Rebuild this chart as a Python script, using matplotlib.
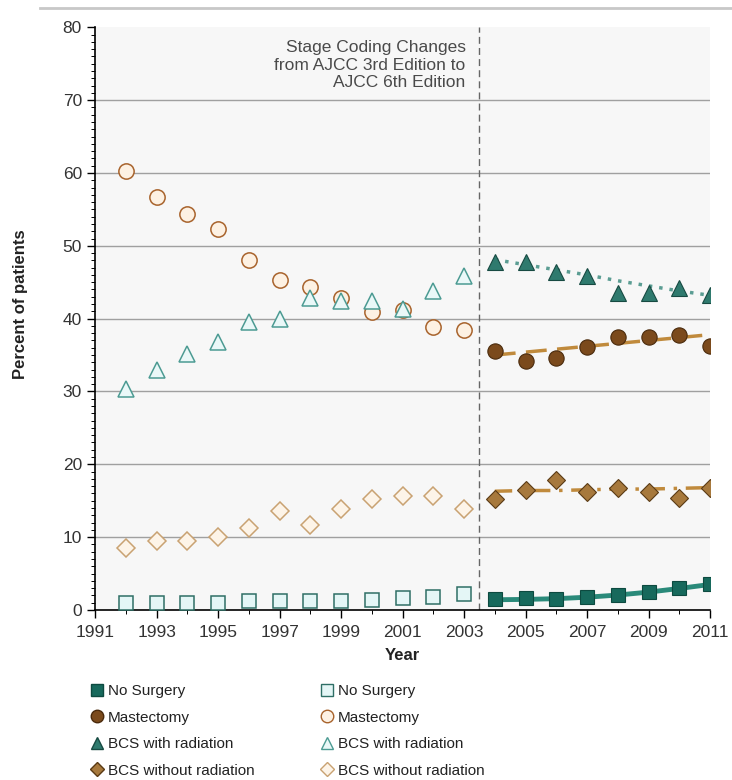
import numpy as np
import matplotlib
matplotlib.use("Agg")
from matplotlib import pyplot as plt
from matplotlib.ticker import MultipleLocator, FixedLocator
from matplotlib.lines import Line2D

plt.rcParams['font.family'] = ['Liberation Sans', 'DejaVu Sans']

# 1992-2003 (AJCC 3rd edition), open markers
years_old = np.arange(1992, 2004)
mast_old = [60.3, 56.7, 54.4, 52.3, 48.1, 45.3, 44.3, 42.8, 40.9, 41.2, 38.8, 38.4]
bcsr_old = [30.4, 32.9, 35.1, 36.8, 39.6, 40.0, 42.9, 42.4, 42.4, 41.3, 43.8, 45.9]
bcsn_old = [8.5, 9.5, 9.5, 10.0, 11.2, 13.6, 11.6, 13.8, 15.2, 15.6, 15.6, 13.8]
nosurg_old = [1.0, 1.0, 1.0, 1.0, 1.2, 1.2, 1.2, 1.2, 1.4, 1.6, 1.8, 2.2]

# 2004-2011 (AJCC 6th edition), filled markers + trend lines
years_new = np.arange(2004, 2012)
bcsr_new = [47.8, 47.8, 46.4, 45.9, 43.5, 43.5, 44.2, 43.3]
mast_new = [35.6, 34.2, 34.6, 36.1, 37.5, 37.5, 37.7, 36.3]
bcsn_new = [15.2, 16.5, 17.8, 16.2, 16.7, 16.2, 15.4, 16.8]
nosurg_new = [1.5, 1.6, 1.5, 1.8, 2.1, 2.5, 3.0, 3.6]

bcsr_fit = [48.1, 47.4, 46.7, 46.0, 45.2, 44.5, 43.8, 43.2]
mast_fit = [35.0, 35.4, 35.8, 36.2, 36.6, 37.0, 37.4, 37.8]
bcsn_fit = [16.3, 16.4, 16.4, 16.5, 16.6, 16.6, 16.7, 16.8]
nosurg_fit = [1.4, 1.45, 1.55, 1.75, 2.05, 2.45, 2.95, 3.5]

labels = ['No Surgery', 'Mastectomy', 'BCS with radiation', 'BCS without radiation']
xticks = list(range(1991, 2012, 2))

teal_dark = '#17695c'
brown_dark = '#7b4a1c'
brown_mid = '#a7793d'
orange_line = '#c08a3c'

fig = plt.figure(figsize=(7.32, 7.8), dpi=100)
ax = fig.add_axes([0.130, 0.218, 0.840, 0.747])
ax.set_facecolor('#f7f7f7')

for y in range(10, 80, 10):
    ax.axhline(y, color='#a0a0a0', lw=1, zorder=1)

ax.axvline(2003.5, color='#666666', lw=1, ls=(0, (5, 3)), zorder=2)
ax.text(2003.05, 78.2, 'Stage Coding Changes\nfrom AJCC 3rd Edition to\nAJCC 6th Edition',
        ha='right', va='top', fontsize=12.5, color='#4a4a4a', linespacing=1.2)

ms = 10
# open markers
ax.plot(years_old, nosurg_old, ls='none', marker='s', ms=ms, mfc='#e4f6f6', mec='#2f6f66', mew=1.1, zorder=4)
ax.plot(years_old, mast_old, ls='none', marker='o', ms=ms + 1, mfc='#fdf1e3', mec='#a8632c', mew=1.1, zorder=4)
ax.plot(years_old, bcsr_old, ls='none', marker='^', ms=ms + 1, mfc='#eaf8f8', mec='#4c9b93', mew=1.1, zorder=4)
ax.plot(years_old, bcsn_old, ls='none', marker='D', ms=ms - 1, mfc='#fdf4e8', mec='#c9a272', mew=1.1, zorder=4)

# trend lines
ax.plot(years_new, bcsr_fit, color='#5b9d93', lw=2.5, ls=(0, (1, 2)), zorder=3)
ax.plot(years_new, mast_fit, color=orange_line, lw=2.5, ls=(0, (6, 3)), zorder=3)
ax.plot(years_new, bcsn_fit, color=orange_line, lw=2.5, ls=(0, (5, 2.5, 1, 2.5)), zorder=3)
ax.plot(years_new, nosurg_fit, color='#2a8a7a', lw=3.5, zorder=3)

# filled markers
ax.plot(years_new, nosurg_new, ls='none', marker='s', ms=ms, mfc=teal_dark, mec='#0d4a40', mew=0.8, zorder=5)
ax.plot(years_new, mast_new, ls='none', marker='o', ms=ms + 1, mfc=brown_dark, mec='#4a2a0c', mew=0.8, zorder=5)
ax.plot(years_new, bcsr_new, ls='none', marker='^', ms=ms + 1, mfc='#2f7a6e', mec='#174a42', mew=0.8, zorder=5)
ax.plot(years_new, bcsn_new, ls='none', marker='D', ms=ms - 1, mfc=brown_mid, mec='#5a3a14', mew=0.8, zorder=5)

ax.set_xlim(1991, 2011)
ax.set_ylim(0, 80)
ax.xaxis.set_major_locator(FixedLocator(xticks))
ax.xaxis.set_minor_locator(MultipleLocator(1))
ax.yaxis.set_major_locator(MultipleLocator(10))
ax.yaxis.set_minor_locator(MultipleLocator(1))
ax.tick_params(axis='both', which='major', labelsize=12.5, labelcolor='#333333', length=6, width=1)
ax.tick_params(axis='x', which='major', pad=5)
ax.tick_params(axis='y', which='minor', length=3, width=0.7)
ax.tick_params(axis='x', which='minor', length=3, width=0.7)
for s in ['top', 'right']:
    ax.spines[s].set_visible(False)
ax.spines['left'].set_linewidth(1.2)
ax.spines['bottom'].set_linewidth(1.2)

ax.set_xlabel('Year', fontsize=12, fontweight='bold', color='#222222')
ax.set_ylabel('Percent of patients', fontsize=12, fontweight='bold', color='#222222')
ax.xaxis.set_label_coords(0.5, -0.079)
ax.yaxis.set_label_coords(-0.122, 0.525)
ax.xaxis.label.set_va('center')
ax.yaxis.label.set_va('center')

fig.add_artist(Line2D([0.055, 1.0], [0.990, 0.990], color='#c8c8c8', lw=2))

filled = [
    Line2D([], [], ls='none', marker='s', ms=8, mfc=teal_dark, mec='#0d4a40'),
    Line2D([], [], ls='none', marker='o', ms=9, mfc=brown_dark, mec='#4a2a0c'),
    Line2D([], [], ls='none', marker='^', ms=9, mfc='#2f7a6e', mec='#174a42'),
    Line2D([], [], ls='none', marker='D', ms=7, mfc=brown_mid, mec='#5a3a14'),
]
opened = [
    Line2D([], [], ls='none', marker='s', ms=8, mfc='#e4f6f6', mec='#2f6f66'),
    Line2D([], [], ls='none', marker='o', ms=9, mfc='#fdf1e3', mec='#a8632c'),
    Line2D([], [], ls='none', marker='^', ms=9, mfc='#eaf8f8', mec='#4c9b93'),
    Line2D([], [], ls='none', marker='D', ms=7, mfc='#fdf4e8', mec='#c9a272'),
]
leg_kw = dict(frameon=False, fontsize=11, handlelength=0.8, handletextpad=0.3,
              labelspacing=0.82, borderaxespad=0, borderpad=0, labelcolor='#222222',
              loc='upper left')
fig.legend(filled, labels, bbox_to_anchor=(0.124, 0.123), **leg_kw)
fig.legend(opened, labels, bbox_to_anchor=(0.439, 0.123), **leg_kw)

plt.savefig('out.png', dpi=100)
